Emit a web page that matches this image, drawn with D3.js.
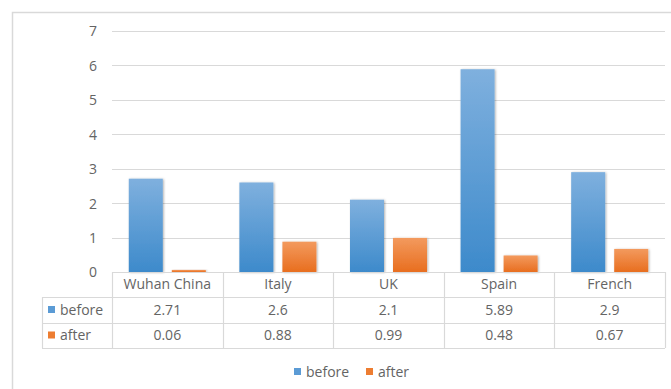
<!DOCTYPE html>
<html><head><meta charset="utf-8">
<script src="https://cdn.jsdelivr.net/npm/d3@7"></script>
<style>body{margin:0;background:#fff;}svg{display:block;font-family:"Open Sans",sans-serif;}</style>
</head><body><svg id="c" width="671" height="389"></svg>
<script>
const categories = ["Wuhan China","Italy","UK","Spain","French"];
const seriesNames = ["before","after"];
const before = [2.71,2.6,2.1,5.89,2.9];
const after = [0.06,0.88,0.99,0.48,0.67];
const yTicks = [0,1,2,3,4,5,6,7];
const colors = {before:"#5b9bd5", after:"#ed7d31"};
const values = {before, after};

const svg = d3.select("#c");
const W=671,H=389;
const left=112,right=665,top0=31,bottom0=272;
const textColor="#646464", gridColor="#d9d9d9";

const defs = svg.append("defs");
[["before","#7fb0de","#3d8acb"],["after","#f39a5e","#e86e1f"]].forEach(([k,a,b])=>{
  const g=defs.append("linearGradient").attr("id","g-"+k).attr("x1",0).attr("y1",0).attr("x2",0).attr("y2",1);
  g.append("stop").attr("offset","0%").attr("stop-color",a);
  g.append("stop").attr("offset","100%").attr("stop-color",b);
});
const f=defs.append("filter").attr("id","sh").attr("x","-20%").attr("y","-20%").attr("width","150%").attr("height","150%");
f.append("feDropShadow").attr("dx",1).attr("dy",0.5).attr("stdDeviation",0.8).attr("flood-color","#000").attr("flood-opacity",0.3);

// frame
svg.append("path").attr("d",`M12.5,${H} V12.5 H${W}`).attr("fill","none").attr("stroke","#d9d9d9").attr("stroke-width",1.5);

const y=d3.scaleLinear().domain([0,7]).range([bottom0,top0]);
const x0=d3.scaleBand().domain(categories).range([left,right]);
const bw=x0.bandwidth();
const x1=d3.scaleBand().domain(seriesNames).range([0,bw]).paddingInner(9/43).paddingOuter(0.39);

// gridlines
svg.append("g").selectAll("line").data(yTicks.filter(t=>t>0)).join("line")
  .attr("x1",left).attr("x2",right).attr("y1",d=>Math.round(y(d))+0.5).attr("y2",d=>Math.round(y(d))+0.5)
  .attr("stroke",gridColor).attr("stroke-width",1);

// y labels
const yAxis=d3.axisLeft(y).tickValues(yTicks).tickFormat(d3.format("d")).tickSize(0).tickPadding(0);
const ga=svg.append("g").attr("transform","translate(97,0)").call(yAxis);
ga.select(".domain").remove();
ga.selectAll("text").attr("fill",textColor).attr("font-size",14).attr("font-family","Open Sans").attr("dy","0.35em");

// bars
const grp=svg.append("g").selectAll("g").data(categories).join("g").attr("transform",d=>`translate(${x0(d)},0)`);
grp.selectAll("rect").data((d,i)=>seriesNames.map(s=>({s,v:values[s][i]}))).join("rect")
  .attr("x",d=>x1(d.s)).attr("width",x1.bandwidth())
  .attr("y",d=>y(d.v)).attr("height",d=>y(0)-y(d.v))
  .attr("fill",d=>`url(#g-${d.s})`).attr("filter","url(#sh)");

// data table
const rowH=[272,297,323,348];
const tl=42;
const tg=svg.append("g").attr("stroke",gridColor).attr("stroke-width",1.2).attr("fill","none");
tg.append("line").attr("x1",left).attr("x2",right).attr("y1",272.5).attr("y2",272.5);
[297,323,348].forEach(yy=>tg.append("line").attr("x1",tl).attr("x2",right).attr("y1",yy+0.5).attr("y2",yy+0.5));
tg.append("line").attr("x1",tl+0.5).attr("x2",tl+0.5).attr("y1",297).attr("y2",348);
categories.forEach(c=>tg.append("line").attr("x1",Math.round(x0(c))+0.5).attr("x2",Math.round(x0(c))+0.5).attr("y1",272).attr("y2",348));
tg.append("line").attr("x1",right+0.5).attr("x2",right+0.5).attr("y1",272).attr("y2",348);

const tt=svg.append("g").attr("font-size",14).attr("fill",textColor).attr("text-anchor","middle");
categories.forEach((c,i)=>{
  const cx=x0(c)+bw/2;
  tt.append("text").attr("x",cx).attr("y",(rowH[0]+rowH[1])/2).attr("dy","0.35em").text(c);
  seriesNames.forEach((s,j)=>{
    tt.append("text").attr("x",cx).attr("y",(rowH[j+1]+rowH[j+2])/2).attr("dy","0.35em").text(values[s][i]);
  });
});
seriesNames.forEach((s,j)=>{
  const cy=(rowH[j+1]+rowH[j+2])/2;
  svg.append("rect").attr("x",48).attr("y",cy-4).attr("width",7).attr("height",7).attr("fill",colors[s]);
  svg.append("text").attr("x",60).attr("y",cy).attr("dy","0.35em").attr("font-size",14).attr("fill",textColor).text(s);
});

// legend
const leg=[{s:"before",x:294},{s:"after",x:366}];
leg.forEach(d=>{
  svg.append("rect").attr("x",d.x).attr("y",368).attr("width",7).attr("height",7).attr("fill",colors[d.s]);
  svg.append("text").attr("x",d.x+12).attr("y",372).attr("dy","0.35em").attr("font-size",14).attr("fill",textColor).text(d.s);
});
</script></body></html>
